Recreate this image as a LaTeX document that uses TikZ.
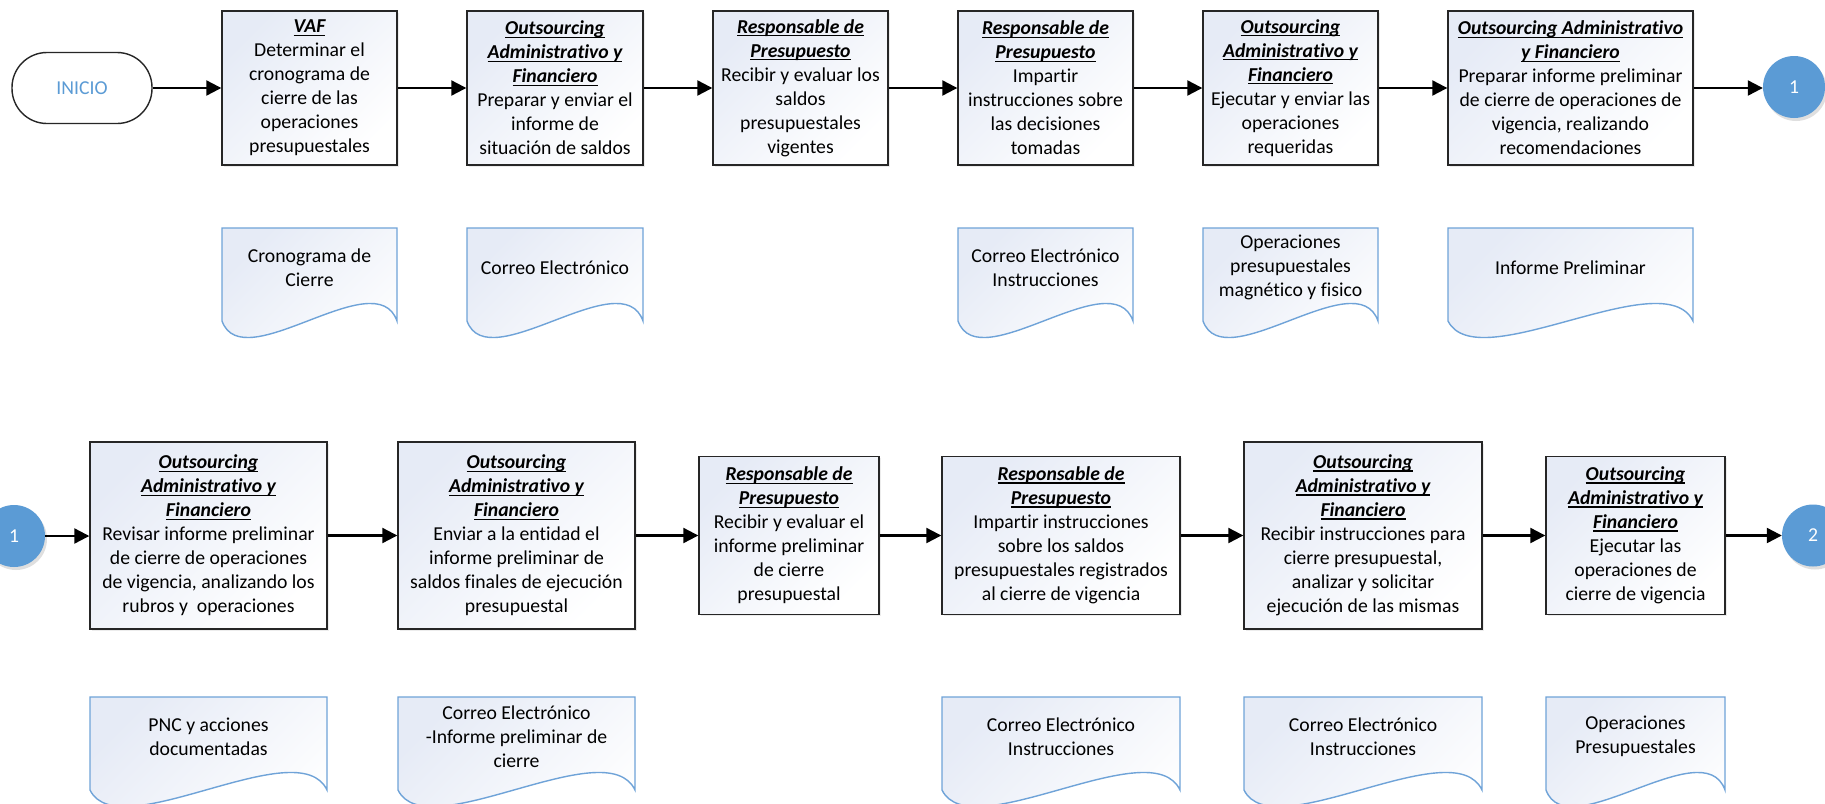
\documentclass[tikz,border=0pt]{standalone}
\usepackage{fontspec}
\setmainfont{Carlito}[Ligatures={NoCommon}]
\usetikzlibrary{arrows.meta,shadows}
\definecolor{gradtop}{HTML}{E6EBF6}
\definecolor{docblue}{HTML}{6FA3D8}
\definecolor{circblue}{HTML}{5B9BD5}
\newsavebox{\hdbox}
\newcommand{\hd}[1]{{\bfseries\itshape\sbox{\hdbox}{#1}\rlap{\rule[-2.8pt]{\wd\hdbox}{1.1pt}}\usebox{\hdbox}}}
\newcommand{\docshape}[5]{%
  \path[docstyle] (#2,#4) -- (#3,#4) -- (#3,{#4+93})
    .. controls ({#3-0.12*(#3-#2)},{#4+93-60}) and ({#2+0.12*(#3-#2)},{#4+93+58}) .. (#2,{#4+93}) -- cycle;
  \node[doctext] (#1) at ({(#2+#3)/2},{#4+39.5}) {#5};
}
\begin{document}
\begin{tikzpicture}[x=1pt,y=-1pt,
  txt/.style={font=\fontsize{19.7}{24}\selectfont},
  proc/.style={txt, draw=black!85, line width=1.4pt, top color=gradtop, bottom color=white, shading angle=45,
    inner sep=0pt, align=center,
    drop shadow={opacity=0.15, shadow xshift=1.5pt, shadow yshift=-1.5pt}},
  docstyle/.style={draw=docblue, line width=1.4pt, top color=gradtop, bottom color=white, shading angle=45},
  doctext/.style={txt, align=center, inner sep=0pt},
  term/.style={txt, draw=black!85, line width=1.4pt, fill=white, rounded corners=35pt,
    minimum width=140pt, minimum height=71pt, inner sep=0pt, text=circblue},
  conn/.style={txt, circle, fill=circblue, text=white, minimum size=62pt, inner sep=0pt,
    drop shadow={opacity=0.25, shadow xshift=2pt, shadow yshift=-3pt}},
  arr/.style={line width=2.2pt, -{Triangle[length=15pt,width=15pt]}}
]
\useasboundingbox (0,0) rectangle (1825,803);
\clip (0,0) rectangle (1825,803);
\fill[white] (0,0) rectangle (1825,803);

% ---------- Row 1 ----------
\node[term] (inicio) at (82,88) {INICIO};
\node[proc, minimum width=175pt, minimum height=154pt] (b1) at (309.5,88)
  {\hd{VAF}\\Determinar el\\cronograma de\\cierre de las\\operaciones\\presupuestales};
\node[proc, minimum width=176pt, minimum height=154pt] (b2) at (555,88)
  {\hd{Outsourcing}\\\hd{Administrativo y}\\\hd{Financiero}\\Preparar y enviar el\\informe de\\situación de saldos};
\node[proc, minimum width=175pt, minimum height=154pt] (b3) at (800.5,88)
  {\hd{Responsable de}\\\hd{Presupuesto}\\Recibir y evaluar los\\saldos\\presupuestales\\vigentes};
\node[proc, minimum width=175pt, minimum height=154pt] (b4) at (1045.5,88)
  {\hd{Responsable de}\\\hd{Presupuesto}\\Impartir\\instrucciones sobre\\las decisiones\\tomadas};
\node[proc, minimum width=175pt, minimum height=154pt] (b5) at (1290.5,88)
  {\hd{Outsourcing}\\\hd{Administrativo y}\\\hd{Financiero}\\Ejecutar y enviar las\\operaciones\\requeridas};
\node[proc, minimum width=245pt, minimum height=154pt] (b6) at (1570.5,88)
  {\hd{Outsourcing Administrativo}\\\hd{y Financiero}\\Preparar informe preliminar\\de cierre de operaciones de\\vigencia, realizando\\recomendaciones};
\node[conn] (c1a) at (1794,87) {1};

\draw[arr] (inicio) -- (b1);
\draw[arr] (b1) -- (b2);
\draw[arr] (b2) -- (b3);
\draw[arr] (b3) -- (b4);
\draw[arr] (b4) -- (b5);
\draw[arr] (b5) -- (b6);
\draw[arr] (b6) -- (b6 -| c1a.west);

\docshape{d1}{222}{397}{228}{Cronograma de\\Cierre}
\docshape{d2}{467}{643}{228}{Correo Electrónico}
\docshape{d4}{958}{1133}{228}{Correo Electrónico\\Instrucciones}
\docshape{d5}{1203}{1378}{228}{Operaciones\\presupuestales\\magnético y fisico}
\docshape{d6}{1448}{1693}{228}{Informe Preliminar}

% ---------- Row 2 ----------
\node[conn] (c1b) at (14,536) {1};
\node[proc, minimum width=237pt, minimum height=187pt] (r1) at (208.5,535.5)
  {\hd{Outsourcing}\\\hd{Administrativo y}\\\hd{Financiero}\\Revisar informe preliminar\\de cierre de operaciones\\de vigencia, analizando los\\rubros y~ operaciones};
\node[proc, minimum width=237pt, minimum height=187pt] (r2) at (516.5,535.5)
  {\hd{Outsourcing}\\\hd{Administrativo y}\\\hd{Financiero}\\Enviar a la entidad el\\informe preliminar de\\saldos finales de ejecución\\presupuestal};
\node[proc, minimum width=180pt, minimum height=158pt] (r3) at (789,535.5)
  {\hd{Responsable de}\\\hd{Presupuesto}\\Recibir y evaluar el\\informe preliminar\\de cierre\\presupuestal};
\node[proc, minimum width=238pt, minimum height=158pt] (r4) at (1061,535.5)
  {\hd{Responsable de}\\\hd{Presupuesto}\\Impartir instrucciones\\sobre los saldos\\presupuestales registrados\\al cierre de vigencia};
\node[proc, minimum width=238pt, minimum height=187pt] (r5) at (1363,535.5)
  {\hd{Outsourcing}\\\hd{Administrativo y}\\\hd{Financiero}\\Recibir instrucciones para\\cierre presupuestal,\\analizar y solicitar\\ejecución de las mismas};
\node[proc, minimum width=179pt, minimum height=158pt] (r6) at (1635.5,535.5)
  {\hd{Outsourcing}\\\hd{Administrativo y}\\\hd{Financiero}\\Ejecutar las\\operaciones de\\cierre de vigencia};
\node[conn] (c2) at (1813,535.5) {2};

\draw[arr] (c1b) -- (c1b -| r1.west);
\draw[arr] (r1) -- (r2);
\draw[arr] (r2) -- (r3);
\draw[arr] (r3) -- (r4);
\draw[arr] (r4) -- (r5);
\draw[arr] (r5) -- (r6);
\draw[arr] (r6) -- (c2);

\docshape{e1}{90}{327}{697}{PNC y acciones\\documentadas}
\docshape{e2}{398}{635}{697}{Correo Electrónico\\-Informe preliminar de\\cierre}
\docshape{e4}{942}{1180}{697}{Correo Electrónico\\Instrucciones}
\docshape{e5}{1244}{1482}{697}{Correo Electrónico\\Instrucciones}
\docshape{e6}{1546}{1725}{697}{Operaciones\\Presupuestales}
\end{tikzpicture}
\end{document}
